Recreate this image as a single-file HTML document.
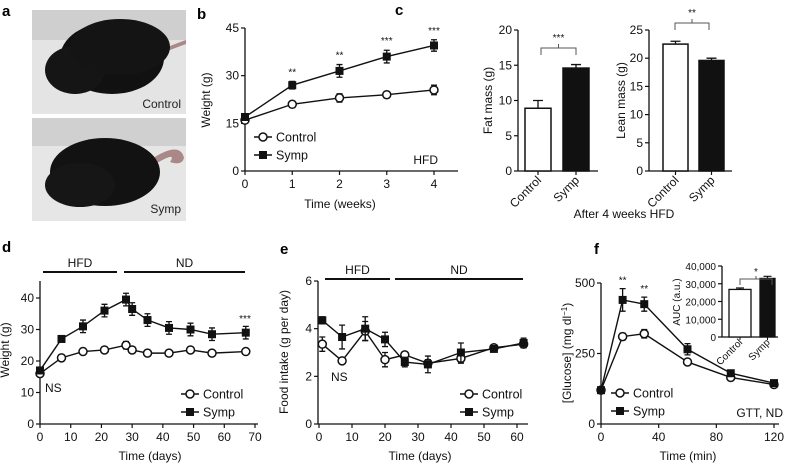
<!DOCTYPE html>
<html><head><meta charset="utf-8">
<style>
html,body{margin:0;padding:0;background:#fff;}
svg{display:block;font-family:"Liberation Sans",Arial,sans-serif;}
</style></head>
<body>
<svg id="fig" width="788" height="467" viewBox="0 0 788 467" xmlns="http://www.w3.org/2000/svg">
  <!-- panel a photos -->
  <g>
    <rect x="32" y="10" width="154" height="104" fill="#e4e4e4"/>
    <rect x="32" y="10" width="154" height="30" fill="#cfcfcf"/>
    <path d="M165 48 Q180 42 186 40 L186 44 Q175 48 165 52Z" fill="#a88"/>
    <ellipse cx="112" cy="58" rx="52" ry="36" fill="#111"/>
    <ellipse cx="75" cy="70" rx="30" ry="24" fill="#151515"/>
    <ellipse cx="120" cy="47" rx="50" ry="28" fill="#141414"/>
    <text x="181" y="108" font-size="12" text-anchor="end" fill="#222">Control</text>
    <rect x="32" y="118" width="154" height="103" fill="#e6e6e6"/>
    <rect x="32" y="118" width="154" height="28" fill="#d0d0d0"/>
    <path d="M150 160 Q180 140 184 158 Q182 166 170 162 Q178 150 152 166Z" fill="#a88"/>
    <ellipse cx="105" cy="172" rx="55" ry="34" fill="#121212"/>
    <ellipse cx="80" cy="185" rx="35" ry="22" fill="#161616"/>
    <text x="181" y="213" font-size="12" text-anchor="end" fill="#222">Symp</text>
  </g>
  <g font-weight="bold" font-size="15" fill="#000">
    <text x="2" y="16">a</text>
    <text x="197" y="19">b</text>
    <text x="395" y="15">c</text>
    <text x="2" y="252">d</text>
    <text x="280" y="254">e</text>
    <text x="594" y="254">f</text>
  </g>
</svg>
<script>
// ---- Panel b data ----
const bWeeks = [0,1,2,3,4];
const bControl = [16,21,23,24,25.5];
const bControlErr = [0.8,1,1.3,1,1.5];
const bSymp = [17,27,31.5,36,39.5];
const bSympErr = [1,1.2,2,2,1.8];
const bTicksY = [0,15,30,45];
const bTicksX = [0,1,2,3,4];
const bStars = ['','**','**','***','***'];
// ---- Panel c data ----
const cGroups = ['Control','Symp'];
const cFat = [8.9,14.6];
const cFatErr = [1.1,0.5];
const cLean = [22.5,19.6];
const cLeanErr = [0.5,0.4];
const cFatTicks = [0,5,10,15,20];
const cLeanTicks = [0,5,10,15,20,25];
// ---- Panel d data ----
const dDays = [0,7,14,21,28,30,35,42,49,56,67];
const dControl = [16,21,23,23.5,25,23.5,22.5,22.5,23.5,22.5,23];
const dControlErr = [1,1,1,0.8,1.2,1,0.8,0.8,0.8,0.8,0.8];
const dSymp = [17,27,31,36,39.5,36.5,33,30.5,30,28.5,29];
const dSympErr = [1,1,2,2,2,2,2,2,2,2,2];
const dTicksY = [0,10,20,30,40];
const dTicksX = [0,10,20,30,40,50,60,70];
// ---- Panel e data ----
const eDays = [1,7,14,20,26,33,43,53,62];
const eControl = [3.35,2.65,3.9,2.7,2.9,2.55,2.75,3.2,3.35];
const eControlErr = [0.3,0.1,0.4,0.3,0.1,0.15,0.2,0.1,0.15];
const eSymp = [4.35,3.65,4.0,3.55,2.6,2.5,3.0,3.15,3.4];
const eSympErr = [0.15,0.5,0.5,0.3,0.2,0.35,0.4,0.1,0.2];
const eTicksY = [0,2,4,6];
const eTicksX = [0,10,20,30,40,50,60];
// ---- Panel f data ----
const fTime = [0,15,30,60,90,120];
const fControl = [120,310,320,220,165,140];
const fControlErr = [8,12,15,10,8,8];
const fSymp = [120,440,425,265,180,145];
const fSympErr = [8,40,25,20,10,8];
const fTicksY = [0,250,500];
const fTicksX = [0,40,80,120];
const fStars = ['','**','**','','',''];
const fAuc = [26800,33000];
const fAucErr = [800,1200];
const fAucTicks = [0,10000,20000,30000,40000];

const NS='http://www.w3.org/2000/svg';
const svg=document.getElementById('fig');
function el(tag,attrs,parent){const e=document.createElementNS(NS,tag);for(const k in attrs)e.setAttribute(k,attrs[k]);(parent||svg).appendChild(e);return e;}
function txt(x,y,s,size,anchor,parent,extra){const t=el('text',Object.assign({x:x,y:y,'font-size':size,'text-anchor':anchor||'middle',fill:'#111'},extra||{}),parent);t.textContent=s;return t;}
function scale(d0,d1,r0,r1){return v=>r0+(v-d0)/(d1-d0)*(r1-r0);}

function axes(g,sx,sy,x0,x1,y0,y1,ticksX,ticksY,fsz,fmtY){
  el('line',{x1:x0,y1:sy(ticksY[0]),x2:x0,y2:y1,stroke:'#111','stroke-width':1.3},g);
  el('line',{x1:x0,y1:y0,x2:x1,y2:y0,stroke:'#111','stroke-width':1.3},g);
  ticksY.forEach(v=>{const y=sy(v);
    const tk=el('line',{x1:x0-4,y1:y,x2:x0,y2:y,stroke:'#111','stroke-width':1.2},g);
    
    
    const t=txt(x0-6,y+4,fmtY?fmtY(v):String(v),fsz,'end',g);
    
    });
  if(ticksX) ticksX.forEach(v=>{const x=sx(v);
    const tk=el('line',{x1:x,y1:y0,x2:x,y2:y0+4,stroke:'#111','stroke-width':1.2},g);
    
    
    const t=txt(x,y0+17,String(v),fsz,'middle',g);
    
    });
}
function series(g,sx,sy,xs,ys,errs,filled,name,ms){
  ms=ms||4;
  const pts=xs.map((x,i)=>sx(x)+','+sy(ys[i])).join(' ');
  const pl=el('polyline',{points:pts,fill:'none',stroke:'#111','stroke-width':1.4},g);
  
  
  xs.forEach((x,i)=>{
    const cx=sx(x),cy=sy(ys[i]);
    const ya=sy(ys[i]+errs[i]),yb=sy(ys[i]-errs[i]);
    const eb=el('path',{d:`M${cx} ${ya}V${yb}M${cx-3} ${ya}H${cx+3}M${cx-3} ${yb}H${cx+3}`,stroke:'#111','stroke-width':1.3,fill:'none'},g);
    
    
    let m;
    if(filled) m=el('rect',{x:cx-ms,y:cy-ms,width:2*ms,height:2*ms,fill:'#111'},g);
    else m=el('circle',{cx:cx,cy:cy,r:ms,fill:'#fff',stroke:'#111','stroke-width':1.5},g);
    
    
  });
}
function legend(g,x,y,fsz){
  const a=el('g',{},g);
  
  
  el('line',{x1:x-9,y1:y,x2:x+9,y2:y,stroke:'#111','stroke-width':1.4},a);
  el('circle',{cx:x,cy:y,r:4,fill:'#fff',stroke:'#111','stroke-width':1.5},a);
  txt(x+13,y+4.5,'Control',fsz,'start',a);
  const b=el('g',{},g);
  
  
  el('line',{x1:x-9,y1:y+18,x2:x+9,y2:y+18,stroke:'#111','stroke-width':1.4},b);
  el('rect',{x:x-4,y:y+14,width:8,height:8,fill:'#111'},b);
  txt(x+13,y+22.5,'Symp',fsz,'start',b);
}
function ytitle(g,x,y,s,fsz){const t=txt(x,y,s,fsz,'middle',g,{transform:`rotate(-90 ${x} ${y})`});return t;}
function xtitle(g,x,y,s,fsz){const t=txt(x,y,s,fsz,'middle',g);return t;}
function dietBar(g,x1,x2,y,label,name){
  const l=el('line',{x1:x1,y1:y,x2:x2,y2:y,stroke:'#111','stroke-width':2},g);
  
  
  txt((x1+x2)/2,y-5,label,12,'middle',g);
}

// ===== Panel b =====
(function(){
  const g=el('g',{});
  
  
  const sx=scale(0,4,245,434), sy=scale(0,45,171,28);
  axes(g,sx,sy,245,458,171,28,bTicksX,bTicksY,12);
  series(g,sx,sy,bWeeks,bControl,bControlErr,false,'control');
  series(g,sx,sy,bWeeks,bSymp,bSympErr,true,'symp');
  bStars.forEach((s,i)=>{if(s){const t=txt(sx(bWeeks[i]),sy(bSymp[i]+bSympErr[i])-6,s,10,'middle',g);}});
  legend(g,263,137,12.5);
  txt(438,164,'HFD',12,'end',g);
  xtitle(g,340,208,'Time (weeks)',12);
  ytitle(g,210,100,'Weight (g)',12);
})();

// ===== Panel c =====
function barChart(name,x0,x1,y0,yTop,max,ticks,vals,errs,bx,bw,title,titleX,brY,brX1,brX2,stars){
  const g=el('g',{});
  
  
  const sy=scale(0,max,y0,yTop);
  axes(g,null,sy,x0,x1,y0,yTop,null,ticks,12);
  vals.forEach((v,i)=>{
    const x=bx[i];
    const r=el('rect',{x:x,y:sy(v),width:bw,height:y0-sy(v),fill:i?'#111':'#fff',stroke:'#111','stroke-width':1.5},g);
    
    
    const cx=x+bw/2, ye=sy(v+errs[i]);
    el('path',{d:`M${cx} ${sy(v)}V${ye}M${cx-5} ${ye}H${cx+5}`,stroke:'#111','stroke-width':1.3,fill:'none'},g);
    el('line',{x1:cx,y1:y0,x2:cx,y2:y0+4,stroke:'#111','stroke-width':1.2},g);
    const t=txt(cx+4,y0+10,cGroups[i],12,'end',g,{transform:`rotate(-45 ${cx+4} ${y0+10})`});
    
    
  });
  const br=el('path',{d:`M${brX1} ${brY+7}V${brY}H${brX2}V${brY+7}M${(brX1+brX2)/2} ${brY}V${brY-4}`,stroke:'#555','stroke-width':1,fill:'none'},g);
  
  
  txt((brX1+brX2)/2,brY-7,stars,10,'middle',g);
  ytitle(g,titleX,(y0+yTop)/2,title,12);
}
barChart('panel-c-fat-mass-chart',518,598,171,30,20,cFatTicks,cFat,cFatErr,[525,563],26,'Fat mass (g)',492,48,541,576,'***');
barChart('panel-c-lean-mass-chart',649,732,171,30,25,cLeanTicks,cLean,cLeanErr,[663,699],25,'Lean mass (g)',625,23,675,709,'**');
xtitle(svg,624,218,'After 4 weeks HFD',12);

// ===== Panel d =====
(function(){
  const g=el('g',{});
  
  
  const sx=scale(0,70,40,255), sy=scale(0,40,424,298);
  axes(g,sx,sy,40,258,424,281,dTicksX,dTicksY,12);
  series(g,sx,sy,dDays,dControl,dControlErr,false,'control');
  series(g,sx,sy,dDays,dSymp,dSympErr,true,'symp');
  dietBar(g,43,117,272,'HFD','hfd-period-bar');
  dietBar(g,124,245,272,'ND','nd-period-bar');
  txt(45,392,'NS',12,'start',g);
  txt(245,322,'***',10,'middle',g);
  legend(g,190,394,12.5);
  xtitle(g,150,460,'Time (days)',12);
  ytitle(g,9,350,'Weight (g)',12);
})();

// ===== Panel e =====
(function(){
  const g=el('g',{});
  
  
  const sx=scale(0,60,319,517), sy=scale(0,6,424,281);
  axes(g,sx,sy,318,528,424,281,eTicksX,eTicksY,12);
  series(g,sx,sy,eDays,eControl,eControlErr,false,'control');
  series(g,sx,sy,eDays,eSymp,eSympErr,true,'symp');
  dietBar(g,325,390,279,'HFD','hfd-period-bar');
  dietBar(g,395,523,279,'ND','nd-period-bar');
  txt(331,381,'NS',12,'start',g);
  legend(g,469,394,12.5);
  xtitle(g,420,460,'Time (days)',12);
  ytitle(g,288,352,'Food intake (g per day)',12);
})();

// ===== Panel f =====
(function(){
  const g=el('g',{});
  
  
  const sx=scale(0,120,601,774), sy=scale(0,500,424,283);
  axes(g,sx,sy,601,779,424,283,fTicksX,fTicksY,12);
  series(g,sx,sy,fTime,fControl,fControlErr,false,'control');
  series(g,sx,sy,fTime,fSymp,fSympErr,true,'symp');
  fStars.forEach((s,i)=>{if(s){const t=txt(sx(fTime[i]),sy(fSymp[i]+fSympErr[i])-5,s,10,'middle',g);}});
  legend(g,620,393,12.5);
  txt(783,417,'GTT, ND',12,'end',g);
  xtitle(g,688,460,'Time (min)',12);
  const yt=txt(571,353,'[Glucose] (mg dl',12,'middle',g,{transform:'rotate(-90 571 353)'});
  
  
  const sup=el('tspan',{dy:-4,'font-size':8},yt);sup.textContent='−1';
  const cl=el('tspan',{dy:4},yt);cl.textContent=')';
  // inset
  const ig=el('g',{},g);
  
  
  const iy=scale(0,40000,337,266);
  axes(ig,null,iy,722,778,337,266,null,fAucTicks,10,v=>v?v.toLocaleString('en-US'):'0');
  const ibx=[729,760], ibw=[22,15];
  fAuc.forEach((v,i)=>{
    const r=el('rect',{x:ibx[i],y:iy(v),width:ibw[i],height:337-iy(v),fill:i?'#111':'#fff',stroke:'#111','stroke-width':1.3},ig);
    
    
    const cx=ibx[i]+ibw[i]/2, ye=iy(v+fAucErr[i]);
    el('path',{d:`M${cx} ${iy(v)}V${ye}M${cx-4} ${ye}H${cx+4}`,stroke:'#111','stroke-width':1.2,fill:'none'},ig);
    el('line',{x1:cx,y1:337,x2:cx,y2:340,stroke:'#111'},ig);
    const t=txt(cx+3,343,cGroups[i],10,'end',ig,{transform:`rotate(-45 ${cx+3} ${343})`});
    
    
  });
  el('path',{d:'M740 285V279H772V285M756 279V276',stroke:'#555','stroke-width':1,fill:'none'},ig);
  txt(756,275,'*',10,'middle',ig);
  const at=txt(680,302,'AUC (a.u.)',10,'middle',ig,{transform:'rotate(-90 680 302)'});
  
  
})();
</script>
</body></html>
